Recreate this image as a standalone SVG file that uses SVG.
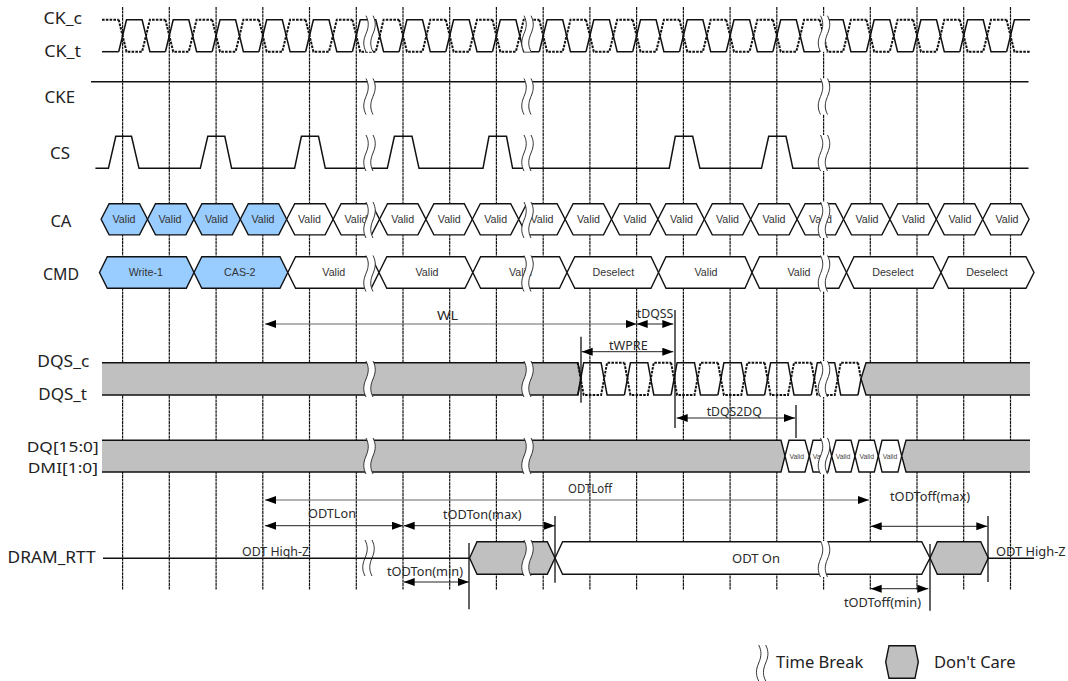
<svg xmlns="http://www.w3.org/2000/svg" xmlns:xlink="http://www.w3.org/1999/xlink" width="1068" height="681" viewBox="0 0 1068 681">
<style>
.l{font-family:"Noto Sans","Open Sans",sans-serif;font-size:16.4px;fill:#222}
.l2{font-family:"Noto Sans","Open Sans",sans-serif;font-size:14.6px;fill:#222}
.a{font-family:"Noto Sans","Open Sans",sans-serif;font-size:13px;fill:#2a2a2a}
.v{font-family:"Liberation Sans",Arial,sans-serif;font-size:10.7px;fill:#333;text-anchor:middle}
.s{font-family:"Liberation Sans",Arial,sans-serif;font-size:6.8px;fill:#444;text-anchor:middle}
.w{fill:none;stroke:#111;stroke-width:1.5;stroke-linejoin:miter}
.d{fill:none;stroke:#111;stroke-width:2;stroke-dasharray:2.6 1.2}
.h{fill:#fff;stroke:#111;stroke-width:1.4}
.b{fill:#99ccff;stroke:#111;stroke-width:1.4}
.g{fill:#c0c0c0;stroke:#111;stroke-width:1.4}
.m{stroke:#111;stroke-width:1.3;fill:none}
.r{stroke:#222;stroke-width:1;marker-start:url(#ah);marker-end:url(#ah);fill:none}
.r1{stroke:#666;stroke-width:1.2;marker-start:url(#ah);marker-end:url(#ah);fill:none}
</style>
<defs>
<marker id="ah" markerUnits="userSpaceOnUse" markerWidth="12" markerHeight="9" refX="11" refY="4" orient="auto-start-reverse"><path d="M0 0L11 4L0 8Z" fill="#000"/></marker>
<g id="brk"><path d="M-3 0C0 6 0 11 -3 18C-6 25 -6 30 -3 36H4C1 30 1 25 4 18C7 11 7 6 4 0Z" fill="#fff"/><path d="M-3 0C0 6 0 11 -3 18C-6 25 -6 30 -3 36M4 0C7 6 7 11 4 18C1 25 1 30 4 36" fill="none" stroke="#333" stroke-width="1"/></g>
<g id="ckp"><path class="w" d="M-3.9 51.7L3.9 19.7H19.5L27.3 51.7H42.8"/><path class="d" d="M-3.9 19.7L3.9 51.7H19.5L27.3 19.7H42.8"/></g>
<g id="dqp"><path class="w" d="M-3 395L3 362.7H20.4L26.4 395H43.7"/><path class="d" d="M-3 362.7L3 395H20.4L26.4 362.7H43.7"/></g>
<path id="hca" d="M0 0L8 -15.6H38.4L46.4 0L38.4 15.6H8Z"/>
</defs>
<rect width="1068" height="681" fill="#fff"/>
<g id="grid"><path d="M122.6 7V590M169.3 7V590M216.1 7V590M262.8 7V590M309.5 7V590M356.3 7V590M403 7V590M449.7 7V590M496.4 7V590M543.2 7V590M589.9 7V590M636.6 7V590M683.4 7V590M730.1 7V590M776.8 7V590M823.6 7V590M870.3 7V590M917 7V590M963.7 7V590M1010.5 7V590" fill="none" stroke="#111" stroke-width="1.2" stroke-dasharray="3 0.6"/></g>
<g id="CK">
<text class="l" x="43.6" y="24" textLength="38.4" lengthAdjust="spacingAndGlyphs">CK_c</text>
<text class="l" x="44.3" y="56.7" textLength="36.7" lengthAdjust="spacingAndGlyphs">CK_t</text>
<path class="w" d="M102 51.7H118.7"/><path class="d" d="M102 19.7H118.7"/>
<use href="#ckp" x="122.6"/><use href="#ckp" x="169.3"/><use href="#ckp" x="216.1"/><use href="#ckp" x="262.8"/><use href="#ckp" x="309.5"/><use href="#ckp" x="356.3"/><use href="#ckp" x="403"/><use href="#ckp" x="449.7"/><use href="#ckp" x="496.4"/><use href="#ckp" x="543.2"/><use href="#ckp" x="589.9"/><use href="#ckp" x="636.6"/><use href="#ckp" x="683.4"/><use href="#ckp" x="730.1"/><use href="#ckp" x="776.8"/><use href="#ckp" x="823.6"/><use href="#ckp" x="870.3"/><use href="#ckp" x="917"/><use href="#ckp" x="963.7"/>
<path class="w" d="M1006.6 51.7L1014.4 19.7H1030"/><path class="d" d="M1006.6 19.7L1014.4 51.7H1030"/>
<use href="#brk" x="369" y="15.7"/><use href="#brk" x="527" y="15.7"/><use href="#brk" x="823.5" y="15.7"/>
</g>
<g id="CKE">
<text class="l" x="44.6" y="103.3" textLength="30.4" lengthAdjust="spacingAndGlyphs">CKE</text>
<path class="w" d="M91 81.7H1028.5"/>
<use href="#brk" x="369" y="78.5"/><use href="#brk" x="527" y="78.5"/><use href="#brk" x="823.5" y="78.5"/>
</g>
<g id="CS">
<text class="l" x="50" y="159" textLength="20" lengthAdjust="spacingAndGlyphs">CS</text>
<path class="w" d="M95.4 168.3H108.4L115.8 136.3H131.5L139 168.3H200.3L207.8 136.3H224.8L231.6 168.3H294.6L301.4 136.3H318.5L325.3 168.3H387.3L394.4 136.3H412L419 168.3H483L489 136.3H506.5L512.6 168.3H669.2L675.3 136.3H692.7L699.9 168.3H761.5L768.7 136.3H786L792.9 168.3H1028.5"/>
<use href="#brk" x="369" y="135"/><use href="#brk" x="527" y="135"/><use href="#brk" x="823.5" y="135"/>
</g>
<g id="CA">
<text class="l" x="50.4" y="226.7" textLength="21" lengthAdjust="spacingAndGlyphs">CA</text>
<use href="#hca" class="b" x="101.1" y="219.3"/><use href="#hca" class="b" x="147.5" y="219.3"/><use href="#hca" class="b" x="193.9" y="219.3"/><use href="#hca" class="b" x="240.3" y="219.3"/>
<use href="#hca" class="h" x="286.7" y="219.3"/><use href="#hca" class="h" x="333.1" y="219.3"/><use href="#hca" class="h" x="379.5" y="219.3"/><use href="#hca" class="h" x="425.9" y="219.3"/><use href="#hca" class="h" x="472.3" y="219.3"/><use href="#hca" class="h" x="518.7" y="219.3"/><use href="#hca" class="h" x="565.1" y="219.3"/><use href="#hca" class="h" x="611.5" y="219.3"/><use href="#hca" class="h" x="657.9" y="219.3"/><use href="#hca" class="h" x="704.3" y="219.3"/><use href="#hca" class="h" x="750.7" y="219.3"/><use href="#hca" class="h" x="797.1" y="219.3"/><use href="#hca" class="h" x="843.5" y="219.3"/><use href="#hca" class="h" x="889.9" y="219.3"/><use href="#hca" class="h" x="936.3" y="219.3"/><use href="#hca" class="h" x="982.7" y="219.3"/>
<text class="v" x="124" y="223.3">Valid</text><text class="v" x="170" y="223.3">Valid</text><text class="v" x="216.5" y="223.3">Valid</text><text class="v" x="263" y="223.3">Valid</text><text class="v" x="309.5" y="223.3">Valid</text><text class="v" x="356" y="223.3">Valid</text><text class="v" x="402.7" y="223.3">Valid</text><text class="v" x="449.3" y="223.3">Valid</text><text class="v" x="495.7" y="223.3">Valid</text><text class="v" x="542" y="223.3">Valid</text><text class="v" x="588.5" y="223.3">Valid</text><text class="v" x="635" y="223.3">Valid</text><text class="v" x="681.5" y="223.3">Valid</text><text class="v" x="727.5" y="223.3">Valid</text><text class="v" x="774" y="223.3">Valid</text><text class="v" x="820.5" y="223.3">Valid</text><text class="v" x="867" y="223.3">Valid</text><text class="v" x="913.5" y="223.3">Valid</text><text class="v" x="960" y="223.3">Valid</text><text class="v" x="1007" y="223.3">Valid</text>
<use href="#brk" x="369" y="202"/><use href="#brk" x="527" y="202"/><use href="#brk" x="823.5" y="202"/>
</g>
<g id="CMD">
<text class="l" x="43" y="280" textLength="36" lengthAdjust="spacingAndGlyphs">CMD</text>
<path class="b" d="M99.5 272.5L107.3 256.7H186.3L194 272.5L186.3 288.3H107.3Z"/>
<path class="b" d="M194 272.5L201.8 256.7H280L287.8 272.5L280 288.3H201.8Z"/>
<path class="h" d="M287.8 272.5L295.6 256.7H371.2L379 272.5L371.2 288.3H295.6Z"/>
<path class="h" d="M379 272.5L386.8 256.7H465L472.8 272.5L465 288.3H386.8Z"/>
<path class="h" d="M472.8 272.5L480.6 256.7H559.5L567 272.5L559.5 288.3H480.6Z"/>
<path class="h" d="M567 272.5L574.8 256.7H651L658.5 272.5L651 288.3H574.8Z"/>
<path class="h" d="M658.5 272.5L666 256.7H745L752 272.5L745 288.3H666Z"/>
<path class="h" d="M752 272.5L759.5 256.7H838.8L846.5 272.5L838.8 288.3H759.5Z"/>
<path class="h" d="M846.5 272.5L854 256.7H933L941 272.5L933 288.3H854Z"/>
<path class="h" d="M941 272.5L948.5 256.7H1026L1034 272.5L1026 288.3H948.5Z"/>
<text class="v" x="145.8" y="276">Write-1</text><text class="v" x="239.8" y="276">CAS-2</text><text class="v" x="333.8" y="276">Valid</text><text class="v" x="427" y="276">Valid</text><text class="v" x="520.4" y="276">Valid</text><text class="v" x="613.4" y="276">Deselect</text><text class="v" x="706" y="276">Valid</text><text class="v" x="799" y="276">Valid</text><text class="v" x="893" y="276">Deselect</text><text class="v" x="987" y="276">Deselect</text>
<use href="#brk" x="369" y="255.5"/><use href="#brk" x="527" y="255.5"/><use href="#brk" x="823.5" y="255.5"/>
</g>
<g id="DQS">
<text class="l" x="37.3" y="367.3" textLength="52" lengthAdjust="spacingAndGlyphs">DQS_c</text>
<text class="l" x="38.3" y="400" textLength="48.7" lengthAdjust="spacingAndGlyphs">DQS_t</text>
<path class="g" d="M102 362.7H578L581 378.8L578 395H102"/>
<use href="#dqp" x="580.7"/><use href="#dqp" x="627.4"/><use href="#dqp" x="674.1"/><use href="#dqp" x="720.9"/><use href="#dqp" x="767.6"/><use href="#dqp" x="814.3"/>
<path class="w" d="M858 395L861 378.8"/><path class="d" d="M858 362.7L861 378.8"/>
<path class="g" d="M1030 362.7H866L861 378.8L866 395H1030"/>
<use href="#brk" x="369" y="361"/><use href="#brk" x="527" y="361"/><use href="#brk" x="823.5" y="361"/>
</g>
<g id="DQ">
<text class="l2" x="26.7" y="452.3" textLength="72" lengthAdjust="spacingAndGlyphs">DQ[15:0]</text>
<text class="l2" x="27.7" y="472.7" textLength="70.3" lengthAdjust="spacingAndGlyphs">DMI[1:0]</text>
<path class="g" d="M102 440.3H781L785 456L781 472H102"/>
<path class="h" d="M785 456L789 440.3H805L809.3 456L805 472H789Z"/>
<path class="h" d="M809.3 456L813 440.3H828L831.7 456L828 472H813Z"/>
<path class="h" d="M831.7 456L836 440.3H851L855 456L851 472H836Z"/>
<path class="h" d="M855 456L859 440.3H874.3L878.3 456L874.3 472H859Z"/>
<path class="h" d="M878.3 456L882 440.3H898L901.7 456L898 472H882Z"/>
<path class="g" d="M1030 440.3H906L901.7 456L906 472H1030"/>
<text class="s" x="796.7" y="458.5">Valid</text><text class="s" x="820" y="458.5">Valid</text><text class="s" x="843" y="458.5">Valid</text><text class="s" x="866.7" y="458.5">Valid</text><text class="s" x="890" y="458.5">Valid</text>
<use href="#brk" x="369" y="438"/><use href="#brk" x="527" y="438"/><use href="#brk" x="823.5" y="438"/>
</g>
<g id="DRAM_RTT">
<text class="l" x="7.6" y="563.3" textLength="88" lengthAdjust="spacingAndGlyphs">DRAM_RTT</text>
<path class="g" d="M469.6 558L477 541.7H547.3L555 558L547.3 574.3H477Z"/>
<path class="h" d="M555 558L562.6 541.7H921.7L930 558L921.7 574.3H562.6Z"/>
<path class="g" d="M930 558L937.3 541.7H980.7L988.3 558L980.7 574.3H937.3Z"/>
<text class="a" x="732" y="562.7" textLength="48" lengthAdjust="spacingAndGlyphs">ODT On</text>
<use href="#brk" x="368" y="540"/><use href="#brk" x="527" y="540"/><use href="#brk" x="823.5" y="541"/>
<path class="w" d="M103 558.3H469.6M988.3 558.3H1034"/>
</g>
<g id="connectors">
<path class="r1" d="M265 324H636.7"/>
<path class="r" d="M636.7 324H673.3"/>
<path class="r" d="M581.7 351.7H673.3"/>
<path class="r" d="M676.7 418H795"/>
<path class="r1" d="M265 500H869"/>
<path class="r" d="M265 525.7H403"/>
<path class="r" d="M403.7 525.7H555"/>
<path class="r" d="M403.7 582H468.8"/>
<path class="r" d="M870.7 526.3H987.3"/>
<path class="r" d="M870.7 588.7H928.3"/>
<path class="m" d="M581 336.7V402.7M675 310V428M796 405V438M555 516V582.7M469 543V609.3M988 516V582M930 544V610.7"/>
</g>
<g id="annotations">
<text class="a" x="437" y="320" textLength="21" lengthAdjust="spacingAndGlyphs">WL</text>
<text class="a" x="636.7" y="318.3" textLength="36.6" lengthAdjust="spacingAndGlyphs">tDQSS</text>
<text class="a" x="609" y="350" textLength="38.7" lengthAdjust="spacingAndGlyphs">tWPRE</text>
<text class="a" x="706.7" y="416" textLength="55" lengthAdjust="spacingAndGlyphs">tDQS2DQ</text>
<text class="a" x="568" y="493" textLength="44" lengthAdjust="spacingAndGlyphs">ODTLoff</text>
<text class="a" x="308" y="517.7" textLength="48" lengthAdjust="spacingAndGlyphs">ODTLon</text>
<text class="a" x="443" y="519" textLength="78.6" lengthAdjust="spacingAndGlyphs">tODTon(max)</text>
<text class="a" x="387" y="575.7" textLength="76" lengthAdjust="spacingAndGlyphs">tODTon(min)</text>
<text class="a" x="242" y="556" textLength="67" lengthAdjust="spacingAndGlyphs">ODT High-Z</text>
<text class="a" x="996" y="556" textLength="69.7" lengthAdjust="spacingAndGlyphs">ODT High-Z</text>
<text class="a" x="890" y="500.5" textLength="80" lengthAdjust="spacingAndGlyphs">tODToff(max)</text>
<text class="a" x="844" y="606.7" textLength="77" lengthAdjust="spacingAndGlyphs">tODToff(min)</text>
</g>
<g id="legend-break"><use href="#brk" x="761.7" y="645"/><text class="l" x="776" y="668.3" textLength="87.3" lengthAdjust="spacingAndGlyphs">Time Break</text></g>
<g id="legend-dontcare"><path class="g" d="M885.7 662L889 645.7H915L918.3 662L915 678.3H889Z"/><text class="l" x="934" y="668.3" textLength="81.7" lengthAdjust="spacingAndGlyphs">Don't Care</text></g>
</svg>
